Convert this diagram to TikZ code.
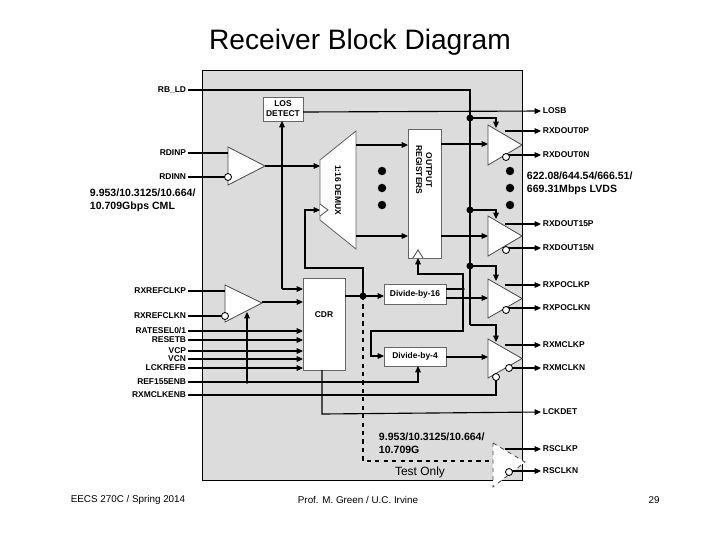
\documentclass[tikz,border=0pt]{standalone}
\usepackage{fontspec}
\setmainfont{Liberation Sans}
\usetikzlibrary{arrows.meta,positioning}
\definecolor{chipgray}{HTML}{DCDCDC}

\begin{document}
\begin{tikzpicture}[x=0.025cm, y=-0.025cm, line width=0.8pt,
  >={Triangle[length=4.5pt,width=4pt]},
  pin/.style={font=\fontsize{6}{7}\selectfont\bfseries, inner sep=1pt},
  note/.style={font=\fontsize{7.5}{9}\selectfont\bfseries, inner sep=1pt, align=left, anchor=north west},
  lpin/.style={pin, anchor=east},
  rpin/.style={pin, anchor=west},
  blk/.style={draw=black!60, fill=white, line width=0.6pt},
  buf/.style={draw=black!70, fill=white, line width=0.6pt},
  bub/.style={circle, draw, fill=white, inner sep=0pt, minimum size=5pt, line width=0.6pt},
  jdot/.style={circle, fill, inner sep=0pt, minimum size=5pt},
  sdot/.style={circle, fill, inner sep=0pt, minimum size=2.5pt},
  bigdot/.style={circle, fill, inner sep=0pt, minimum size=6pt}
]
  \useasboundingbox (0,0) rectangle (720,540);
  \node (title) at (360,42) {\fontsize{20}{22}\selectfont Receiver Block Diagram};

  % chip outline
  \fill[chipgray] (202,70) rectangle (522,480);
  \draw[line width=0.6pt] (202,70) rectangle (522,480);

  % blocks
  \draw[blk] (263,97) rectangle (303,121);
  \node[pin, align=center] (los) at (283,109) {LOS\\DETECT};
  \draw[blk] (320,160) -- (356,131) -- (356,249) -- (320,220) -- cycle;
  \node[pin, rotate=-90] (demux) at (338,190) {1:16 DEMUX};
  \draw[buf] (320,204) -- (328,210) -- (320,216);
  \draw[blk] (408,129) rectangle (441,258);
  \node[pin, rotate=-90, align=center] (oreg) at (424,170) {OUTPUT\\REGISTERS};
  \draw[buf] (413,258) -- (418,250) -- (423,258);
  \draw[blk] (303,278) rectangle (345,370);
  \node[pin] (cdr) at (324,315) {CDR};
  \draw[blk] (384,284) rectangle (446,304);
  \node[pin] (div16) at (415,294) {Divide-by-16};
  \draw[blk] (384,347) rectangle (446,366);
  \node[pin] (div4) at (415,356) {Divide-by-4};

  % buffers
  \draw[buf] (228,147) -- (265,166) -- (228,185) -- cycle;
  \draw[buf] (225,285) -- (262,303) -- (225,322) -- cycle;
  \foreach \yt/\yb in {125/165, 216/256, 279/318, 339/378}
    \draw[buf] (488,\yt) -- (522,{(\yt+\yb)/2}) -- (488,\yb) -- cycle;
  \draw[buf, dashed] (493,443) -- (525,462) -- (493,487) -- cycle;

  % left pins
  \node[lpin] (rbld) at (188,90) {RB\_LD};
  \node[lpin] (rdinp) at (188,153) {RDINP};
  \node[lpin] (rdinn) at (188,177) {RDINN};
  \node[note] (cml) at (88,187) {9.953/10.3125/10.664/\\10.709Gbps CML};
  \node[lpin] (refp) at (188,291) {RXREFCLKP};
  \node[lpin] (refn) at (188,316) {RXREFCLKN};
  \foreach \nm/\txt/\y in {rsel/RATESEL0\slash1/331, rstb/RESETB/340, vcp/VCP/351,
      vcn/VCN/359, lckref/LCKREFB/368}
    \node[lpin] (\nm) at (188,\y) {\txt};
  \node[lpin] (r155) at (188,382) {REF155ENB};
  \node[lpin] (mclken) at (188,395) {RXMCLKENB};

  % right pins
  \foreach \nm/\txt/\y in {losb/LOSB/111, d0p/RXDOUT0P/131, d0n/RXDOUT0N/155,
      d15p/RXDOUT15P/224, d15n/RXDOUT15N/248, pop/RXPOCLKP/285, pon/RXPOCLKN/308,
      mp/RXMCLKP/345, mn/RXMCLKN/368, lckdet/LCKDET/412, rsp/RSCLKP/449, rsn/RSCLKN/471}
    \node[rpin] (\nm) at (541,\y) {\txt};
  \node[note] (lvds) at (525,170) {622.08/644.54/666.51/\\669.31Mbps LVDS};

  % input wiring
  \draw (rdinp) -- (228,153);
  \draw (rdinn) -- (225,177);
  \node[bub] at (228,177) {};
  \draw[->] (265,166) -- (320,166);
  \node[sdot] (j1) at (282,166) {};
  \draw[->] (282,289) -- (282,121);
  \draw[->] (282,289) -- (303,289);
  \draw (refp) -- (225,291);
  \draw (refn) -- (222,316);
  \node[bub] at (225,316) {};
  \draw[->] (262,302) -- (303,302);
  \foreach \nm/\y in {rsel/331, rstb/340, vcp/351, vcn/359, lckref/368}
    \draw[->] (\nm) -- (303,\y);
  \draw[->] (r155) -- (418,382) -- (418,366);
  \draw[->] (247,382) -- (247,312);
  \node[sdot] at (247,382) {};
  \draw (mclken) -- (496,395) -- (496,380);
  \node[bub] at (496,377) {};

  % clock distribution
  \draw (345,296) -- (363,296);
  \draw[->] (363,296) -- (384,296);
  \node[jdot] (cdrclk) at (363,296) {};
  \draw[->] (363,296) -- (363,268) -- (305,268) -- (305,210) -- (320,210);
  \draw[dashed] (363,296) -- (363,461) -- (493,461);
  \draw (446,289) -- (463,289);
  \node[sdot] at (463,289) {};
  \draw[->] (463,289) -- (463,274) -- (418,274) -- (418,258);
  \draw[->] (463,289) -- (463,331) -- (371,331) -- (371,356) -- (384,356);
  \draw[->] (446,298) -- (488,298);
  \draw[->] (446,357) -- (488,357);
  \draw[->] (322,370) -- (322,414) -- (lckdet.west);

  % data path
  \draw[->] (356,145) -- (408,145);
  \draw[->] (356,236) -- (408,236);
  \draw[->] (441,144) -- (488,144);
  \draw[->] (441,236) -- (488,236);
  \foreach \y in {171,188,205} {
    \node[bigdot] at (382,\y) {};
    \node[bigdot] at (510,\y) {};
  }

  % LOS / enable bus
  \draw[->] (303,112) -- (losb.west);
  \draw (rbld) -- (470,90) -- (470,325);
  \foreach \y/\yt in {118/128, 210/219, 266/281} {
    \node[jdot] at (470,\y) {};
    \draw[->] (470,\y) -- (496,\y) -- (496,\yt);
  }
  \draw[->] (470,325) -- (496,325) -- (496,342);

  % outputs
  \foreach \yp/\yn/\p/\n in {131/155/d0p/d0n, 224/248/d15p/d15n, 285/308/pop/pon,
      345/368/mp/mn, 449/471/rsp/rsn} {
    \draw[->] (505,\yp) -- (\p.west);
    \draw[->] (509,\yn) -- (\n.west);
  }
  \foreach \x/\y in {506/157, 506/250, 506/310, 509/368, 509/472}
    \node[bub] at (\x,\y) {};

  % test-only annotation
  \node[note] (rate) at (377,431) {9.953/10.3125/10.664/\\10.709G};
  \node[font=\fontsize{8.5}{10}\selectfont] (test) at (420,472) {Test Only};

  % footer
  \node[font=\fontsize{7}{8}\selectfont] (f1) at (128,500) {EECS 270C / Spring 2014};
  \node[font=\fontsize{7}{8}\selectfont] (f2) at (358,500) {Prof. M. Green / U.C. Irvine};
  \node[font=\fontsize{7}{8}\selectfont] (f3) at (654,500) {29};
\end{tikzpicture}
\end{document}
